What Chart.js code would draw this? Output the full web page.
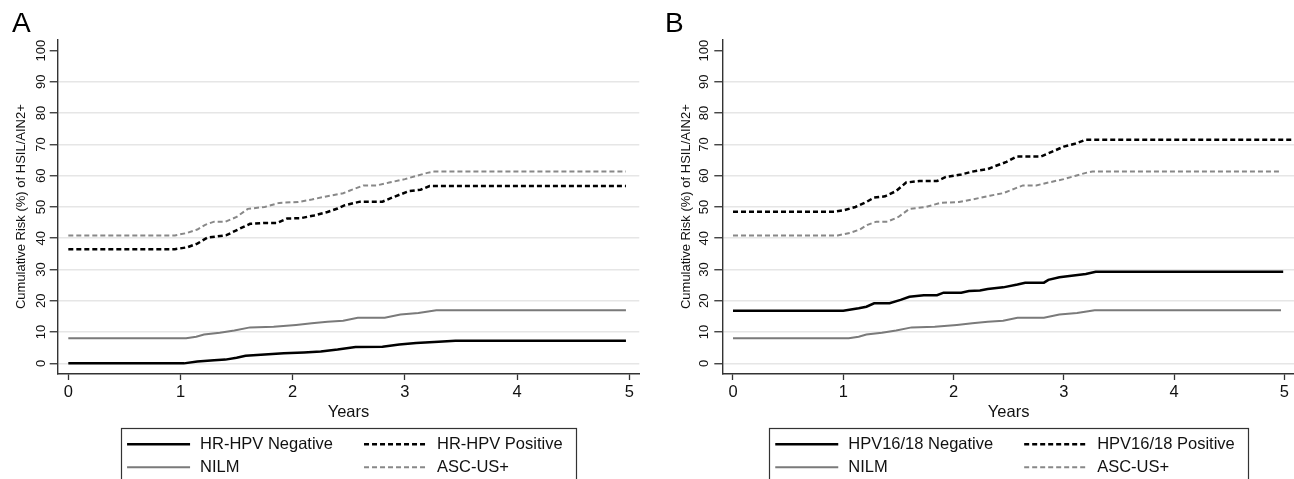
<!DOCTYPE html>
<html><head><meta charset="utf-8">
<script src="https://cdn.jsdelivr.net/npm/chart.js@4.4.1/dist/chart.umd.min.js"></script>
<style>
html,body{margin:0;padding:0;background:#fff;overflow:hidden;width:1294px;height:479px;}
canvas{position:absolute;top:0;}
#cA{left:0;} #cB{left:647px;}
</style></head><body>
<canvas id="cA" width="647" height="479"></canvas>
<canvas id="cB" width="648" height="479"></canvas>
<script>
// ---- tick labels ----
const xTickValues = [0, 1, 2, 3, 4, 5];
const yTickValues = [0, 10, 20, 30, 40, 50, 60, 70, 80, 90, 100];
const xAxisTitle = 'Years';
const yAxisTitle = 'Cumulative Risk (%) of HSIL/AIN2+';

// ---- shared series (both panels) ----
const nilmYears = [0, 1.05, 1.14, 1.21, 1.35, 1.48, 1.62, 1.83, 2.03, 2.17, 2.31, 2.45, 2.58, 2.82, 2.96, 3.12, 3.28, 4.97];
const nilmRisk  = [8.0, 8.0, 8.5, 9.2, 9.8, 10.5, 11.5, 11.7, 12.3, 12.8, 13.3, 13.6, 14.6, 14.6, 15.6, 16.1, 17.0, 17.0];

const ascusYears = [0, 0.95, 1.06, 1.15, 1.22, 1.3, 1.4, 1.5, 1.6, 1.75, 1.88, 2.05, 2.17, 2.33, 2.45, 2.55, 2.63, 2.75, 2.86, 3.0, 3.1, 3.2, 3.26, 4.97];
const ascusRisk  = [40.9, 40.9, 41.7, 42.8, 44.3, 45.3, 45.3, 46.8, 49.4, 50.0, 51.3, 51.6, 52.4, 53.6, 54.4, 55.8, 56.9, 56.9, 57.8, 58.9, 59.9, 60.9, 61.3, 61.3];

// ---- panel A ----
const hrNegYears = [0, 1.03, 1.15, 1.3, 1.4, 1.5, 1.58, 1.75, 1.92, 2.1, 2.25, 2.4, 2.56, 2.8, 2.95, 3.1, 3.3, 3.45, 4.97];
const hrNegRisk  = [0, 0, 0.6, 1.0, 1.2, 1.8, 2.4, 2.8, 3.2, 3.5, 3.8, 4.4, 5.2, 5.3, 6.0, 6.5, 6.9, 7.2, 7.2];

const hrPosYears = [0, 0.95, 1.06, 1.15, 1.24, 1.33, 1.41, 1.53, 1.62, 1.74, 1.86, 1.95, 2.07, 2.19, 2.31, 2.4, 2.46, 2.6, 2.8, 2.9, 3.04, 3.14, 3.22, 4.97];
const hrPosRisk  = [36.5, 36.5, 37.1, 38.3, 40.2, 40.6, 41.0, 43.1, 44.6, 44.9, 44.9, 46.3, 46.4, 47.3, 48.4, 49.5, 50.5, 51.7, 51.7, 53.2, 55.1, 55.5, 56.7, 56.7];

// ---- panel B ----
const h1618NegYears = [0, 1.0, 1.07, 1.14, 1.21, 1.28, 1.42, 1.52, 1.6, 1.73, 1.85, 1.91, 2.07, 2.14, 2.24, 2.31, 2.45, 2.58, 2.65, 2.82, 2.86, 2.96, 3.07, 3.2, 3.29, 4.99];
const h1618NegRisk  = [16.8, 16.8, 17.2, 17.6, 18.1, 19.2, 19.2, 20.3, 21.3, 21.8, 21.8, 22.6, 22.6, 23.1, 23.3, 23.8, 24.3, 25.2, 25.8, 25.8, 26.7, 27.5, 28.0, 28.6, 29.3, 29.3];

const h1618PosYears = [0, 0.92, 1.0, 1.11, 1.21, 1.28, 1.38, 1.48, 1.57, 1.69, 1.85, 1.93, 2.07, 2.17, 2.31, 2.38, 2.48, 2.57, 2.79, 2.89, 3.0, 3.1, 3.2, 5.08];
const h1618PosRisk  = [48.5, 48.5, 48.9, 50.0, 51.6, 53.0, 53.4, 55.1, 57.8, 58.3, 58.3, 59.6, 60.4, 61.3, 62.1, 63.1, 64.4, 66.1, 66.1, 67.6, 69.3, 70.2, 71.5, 71.5];

const FONT = "'Liberation Sans', Arial, Helvetica, sans-serif";
const pts = (xs, ys) => xs.map((x, i) => ({x: x, y: ys[i]}));

function series(label, xs, ys, color, width, dash) {
  return {label, data: pts(xs, ys), borderColor: color, borderWidth: width,
          borderDash: dash || [], pointRadius: 0, tension: 0, fill: false};
}

const boxLegend = {
  id: 'boxLegend',
  afterDraw(chart, args, opts) {
    const ctx = chart.ctx;
    const ds = chart.data.datasets;
    ctx.save();
    ctx.font = opts.font;
    const w1 = Math.max(ctx.measureText(ds[0].label).width, ctx.measureText(ds[2].label).width);
    const w2 = Math.max(ctx.measureText(ds[1].label).width, ctx.measureText(ds[3].label).width);
    const padL = 6.3, sample = 63, gapT = 10, gapC = 31, padR = 13.6;
    const total = padL + sample + gapT + w1 + gapC + sample + gapT + w2 + padR;
    const cx = (chart.chartArea.left + chart.chartArea.right) / 2;
    const left = cx - total / 2;
    ctx.strokeStyle = '#333'; ctx.lineWidth = 1.2; ctx.setLineDash([]);
    ctx.strokeRect(Math.round(left) + 0.5, opts.top + 0.5, Math.round(total), 100);
    const colX = [left + padL, left + padL + sample + gapT + w1 + gapC];
    ds.forEach((d, i) => {
      const c = i % 2, r = Math.floor(i / 2);
      const x0 = colX[c], y = opts.rows[r];
      ctx.beginPath();
      ctx.setLineDash(d.borderDash || []);
      ctx.strokeStyle = d.borderColor; ctx.lineWidth = d.borderWidth;
      ctx.moveTo(x0, y); ctx.lineTo(x0 + sample, y); ctx.stroke();
      ctx.setLineDash([]);
      ctx.fillStyle = '#111'; ctx.textBaseline = 'middle'; ctx.textAlign = 'left';
      ctx.fillText(d.label, x0 + sample + gapT, y + 0.5);
    });
    ctx.font = '28px ' + FONT;
    ctx.fillStyle = '#000'; ctx.textBaseline = 'alphabetic'; ctx.textAlign = 'left';
    ctx.fillText(opts.letter, opts.letterX, 32);
    ctx.restore();
  }
};

function makeChart(id, datasets, cfg) {
  return new Chart(document.getElementById(id), {
    type: 'line',
    data: {datasets},
    plugins: [boxLegend],
    options: {
      responsive: false, animation: false, events: [],
      layout: {padding: {top: 39.3, right: cfg.padRight, bottom: 0, left: 0}},
      plugins: {
        legend: {display: false}, tooltip: {enabled: false},
        boxLegend: {font: '16.5px ' + FONT, top: 428, rows: [444.3, 467.3], letter: cfg.letter, letterX: cfg.letterX}
      },
      scales: {
        x: {
          type: 'linear', min: cfg.xMin, max: cfg.xMax,
          afterBuildTicks: s => { s.ticks = xTickValues.map(v => ({value: v})); },
          afterFit: s => { s.height = 105; },
          grid: {drawOnChartArea: false, drawTicks: true, tickLength: 6, tickColor: '#333', tickWidth: 1.3},
          border: {display: true, color: '#333', width: 1.4},
          ticks: {color: '#111', font: {family: FONT, size: 16.5}, padding: 3, maxRotation: 0, minRotation: 0, autoSkip: false},
          title: {display: true, text: xAxisTitle, color: '#111', font: {family: FONT, size: 16.5}, padding: {top: 0, bottom: 57.1}}
        },
        y: {
          type: 'linear', min: -3.4, max: 103.6,
          afterBuildTicks: s => { s.ticks = yTickValues.map(v => ({value: v})); },
          afterFit: s => { s.width = cfg.yWidth; },
          grid: {drawTicks: true, tickLength: 8, tickWidth: 1.3, lineWidth: 1.5,
                 color: c => (c.tick && c.tick.value === 100) ? 'rgba(0,0,0,0)' : '#e6e6e6',
                 tickColor: '#333'},
          border: {display: true, color: '#333', width: 1.4},
          ticks: {color: '#111', font: {family: FONT, size: 13}, padding: cfg.yPad, minRotation: 90, maxRotation: 90, crossAlign: 'center', autoSkip: false},
          title: {display: true, text: yAxisTitle, color: '#111', font: {family: FONT, size: 13}, padding: {top: cfg.yTitlePad, bottom: 0}}
        }
      }
    }
  });
}

const BLACK = '#000000', GRAY = '#7a7a7a', GRAYD = '#888888';

makeChart('cA', [
  series('HR-HPV Negative', hrNegYears, hrNegRisk, BLACK, 2.5),
  series('HR-HPV Positive', hrPosYears, hrPosRisk, BLACK, 2.5, [5, 3]),
  series('NILM', nilmYears, nilmRisk, GRAY, 2),
  series('ASC-US+', ascusYears, ascusRisk, GRAYD, 2, [5, 3])
], {xMin: -0.0945, xMax: 5.089, padRight: 7.7, yWidth: 57.7, yPad: -2.5, yTitlePad: 13.9, letter: 'A', letterX: 12});

makeChart('cB', [
  series('HPV16/18 Negative', h1618NegYears, h1618NegRisk, BLACK, 2.5),
  series('HPV16/18 Positive', h1618PosYears, h1618PosRisk, BLACK, 2.5, [5, 3]),
  series('NILM', nilmYears, nilmRisk, GRAY, 2),
  series('ASC-US+', ascusYears, ascusRisk, GRAYD, 2, [5, 3])
], {xMin: -0.097, xMax: 5.097, padRight: 0, yWidth: 75.3, yPad: -0.5, yTitlePad: 31.5, letter: 'B', letterX: 18});
</script>
</body></html>
